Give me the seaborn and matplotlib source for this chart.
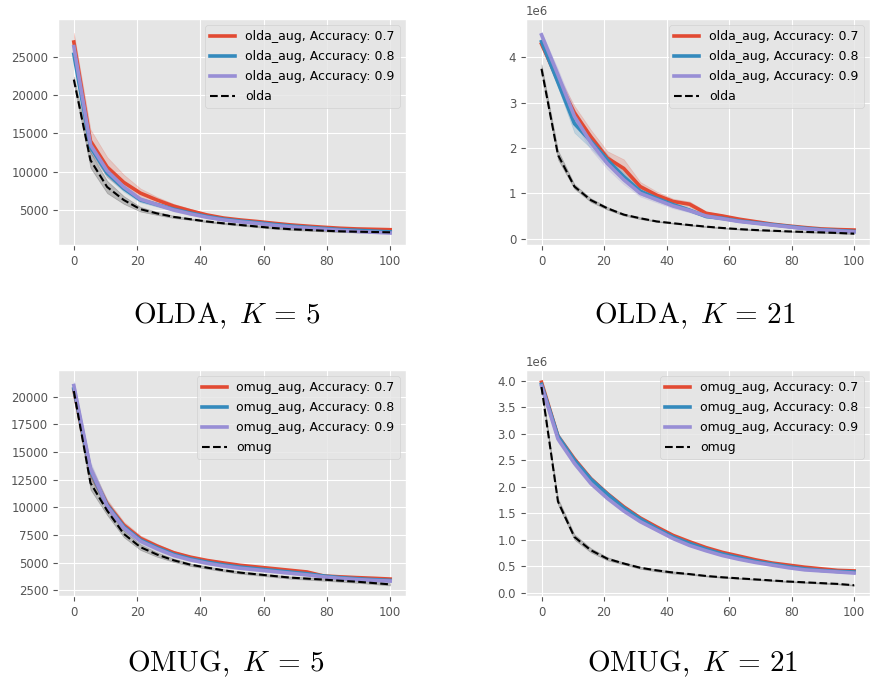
import numpy as np
import pandas as pd
import matplotlib
matplotlib.use("Agg")
import matplotlib.pyplot as plt
import seaborn as sns

plt.style.use("ggplot")
plt.rcParams["mathtext.fontset"] = "cm"

x_vals = [0, 5.26, 10.53, 15.79, 21.05, 26.32, 31.58, 36.84, 42.11, 47.37,
          52.63, 57.89, 63.16, 68.42, 73.68, 78.95, 84.21, 89.47, 94.74, 100]

# ---- OLDA, K = 5 ----
olda5_07 = [26900, 14000, 10600, 8600, 7200, 6300, 5500, 4900, 4350, 3950, 3700, 3500, 3270, 3060, 2900, 2750, 2620, 2530, 2480, 2430]
olda5_08 = [25300, 13200, 9800, 7800, 6300, 5700, 5100, 4600, 4150, 3800, 3550, 3350, 3120, 2920, 2750, 2600, 2450, 2350, 2250, 2150]
olda5_09 = [26300, 13500, 10100, 8000, 6400, 5700, 5000, 4500, 4050, 3700, 3450, 3250, 3000, 2800, 2650, 2500, 2350, 2200, 2100, 2000]
olda5_base = [22000, 11500, 8000, 6300, 5100, 4550, 4100, 3800, 3500, 3260, 3050, 2850, 2650, 2500, 2400, 2300, 2220, 2170, 2130, 2090]
olda5_sd07 = [1200, 1500, 1300, 1000, 600, 400, 300, 250, 200, 150, 150, 120, 100, 100, 100, 100, 100, 100, 100, 100]
olda5_sd08 = [500, 700, 500, 400, 300, 250, 200, 150, 120, 100, 100, 100, 100, 100, 100, 100, 100, 100, 100, 100]
olda5_sd09 = [600, 700, 500, 400, 300, 250, 200, 150, 120, 100, 100, 100, 100, 100, 100, 100, 100, 100, 100, 100]
olda5_sdb = [400, 1000, 800, 500, 300, 200, 150, 100, 100, 100, 100, 100, 100, 100, 100, 100, 100, 100, 100, 100]

# ---- OLDA, K = 21 ----
olda21_07 = [4.30e6, 3.50e6, 2.78e6, 2.25e6, 1.78e6, 1.55e6, 1.15e6, 0.96e6, 0.82e6, 0.76e6, 0.56e6, 0.50e6, 0.43e6, 0.375e6, 0.32e6, 0.28e6, 0.245e6, 0.215e6, 0.20e6, 0.19e6]
olda21_08 = [4.35e6, 3.45e6, 2.54e6, 2.15e6, 1.74e6, 1.37e6, 1.05e6, 0.89e6, 0.75e6, 0.63e6, 0.49e6, 0.45e6, 0.39e6, 0.35e6, 0.31e6, 0.27e6, 0.23e6, 0.20e6, 0.18e6, 0.16e6]
olda21_09 = [4.50e6, 3.62e6, 2.70e6, 2.12e6, 1.66e6, 1.30e6, 1.00e6, 0.86e6, 0.72e6, 0.62e6, 0.50e6, 0.44e6, 0.38e6, 0.34e6, 0.30e6, 0.26e6, 0.22e6, 0.19e6, 0.17e6, 0.15e6]
olda21_base = [3.75e6, 1.85e6, 1.15e6, 0.85e6, 0.67e6, 0.53e6, 0.45e6, 0.38e6, 0.34e6, 0.30e6, 0.265e6, 0.235e6, 0.21e6, 0.19e6, 0.175e6, 0.16e6, 0.148e6, 0.138e6, 0.125e6, 0.11e6]
olda21_sd07 = [0.08e6, 0.12e6, 0.15e6, 0.15e6, 0.15e6, 0.2e6, 0.1e6, 0.08e6, 0.06e6, 0.06e6, 0.04e6, 0.03e6, 0.03e6, 0.02e6, 0.02e6, 0.02e6, 0.02e6, 0.02e6, 0.02e6, 0.02e6]
olda21_sd08 = [0.05e6, 0.1e6, 0.2e6, 0.15e6, 0.12e6, 0.1e6, 0.08e6, 0.06e6, 0.05e6, 0.04e6, 0.03e6, 0.03e6, 0.02e6, 0.02e6, 0.02e6, 0.02e6, 0.02e6, 0.02e6, 0.02e6, 0.02e6]
olda21_sd09 = [0.06e6, 0.12e6, 0.15e6, 0.15e6, 0.12e6, 0.1e6, 0.07e6, 0.06e6, 0.05e6, 0.04e6, 0.03e6, 0.03e6, 0.02e6, 0.02e6, 0.02e6, 0.02e6, 0.02e6, 0.02e6, 0.02e6, 0.02e6]
olda21_sdb = [0.1e6, 0.1e6, 0.05e6, 0.04e6, 0.03e6, 0.02e6, 0.02e6, 0.01e6, 0.01e6, 0.01e6, 0.01e6, 0.01e6, 0.01e6, 0.01e6, 0.01e6, 0.01e6, 0.01e6, 0.01e6, 0.01e6, 0.01e6]

# ---- OMUG, K = 5 ----
omug5_07 = [20600, 13200, 10300, 8400, 7200, 6500, 5900, 5500, 5200, 4970, 4760, 4610, 4460, 4310, 4160, 3800, 3720, 3650, 3590, 3520]
omug5_08 = [20700, 13300, 10200, 8250, 7050, 6350, 5750, 5350, 5050, 4800, 4600, 4450, 4300, 4150, 4000, 3800, 3650, 3550, 3470, 3400]
omug5_09 = [21000, 13500, 10100, 8150, 6950, 6250, 5650, 5250, 4950, 4700, 4500, 4350, 4200, 4050, 3900, 3720, 3580, 3480, 3400, 3340]
omug5_base = [20500, 12200, 9700, 7600, 6400, 5730, 5210, 4820, 4550, 4310, 4100, 3950, 3800, 3650, 3560, 3470, 3370, 3280, 3160, 3040]
omug5_sd = [400, 600, 400, 300, 250, 200, 150, 120, 100, 100, 100, 100, 100, 100, 100, 100, 100, 100, 100, 100]

# ---- OMUG, K = 21 ----
omug21_07 = [3.97e6, 2.95e6, 2.52e6, 2.15e6, 1.87e6, 1.62e6, 1.41e6, 1.24e6, 1.08e6, 0.96e6, 0.85e6, 0.76e6, 0.69e6, 0.62e6, 0.56e6, 0.52e6, 0.48e6, 0.45e6, 0.42e6, 0.41e6]
omug21_08 = [3.93e6, 2.95e6, 2.50e6, 2.14e6, 1.86e6, 1.60e6, 1.39e6, 1.21e6, 1.05e6, 0.93e6, 0.82e6, 0.73e6, 0.66e6, 0.59e6, 0.54e6, 0.49e6, 0.45e6, 0.42e6, 0.40e6, 0.39e6]
omug21_09 = [3.90e6, 2.90e6, 2.44e6, 2.06e6, 1.78e6, 1.54e6, 1.34e6, 1.18e6, 1.02e6, 0.89e6, 0.79e6, 0.70e6, 0.63e6, 0.57e6, 0.52e6, 0.47e6, 0.43e6, 0.41e6, 0.39e6, 0.37e6]
omug21_base = [3.88e6, 1.72e6, 1.05e6, 0.80e6, 0.64e6, 0.55e6, 0.47e6, 0.42e6, 0.38e6, 0.35e6, 0.315e6, 0.29e6, 0.27e6, 0.25e6, 0.23e6, 0.21e6, 0.195e6, 0.18e6, 0.165e6, 0.14e6]
omug21_sd = [0.03e6, 0.06e6, 0.05e6, 0.04e6, 0.03e6, 0.02e6, 0.02e6, 0.02e6, 0.02e6, 0.01e6, 0.01e6, 0.01e6, 0.01e6, 0.01e6, 0.01e6, 0.01e6, 0.01e6, 0.01e6, 0.01e6, 0.01e6]

accuracies = ["0.7", "0.8", "0.9"]
colors = ["#E24A33", "#348ABD", "#988ED5"]

panels = [
    dict(name="olda", series=[olda5_07, olda5_08, olda5_09], base=olda5_base,
         sds=[olda5_sd07, olda5_sd08, olda5_sd09], sdb=olda5_sdb,
         ylim=(440, 29900), caption=r"$\mathrm{OLDA,}\ K\,=\,5$",
         rect=[0.0663, 0.6429, 0.3977, 0.3294], cpos=(0.26, 0.518)),
    dict(name="olda", series=[olda21_07, olda21_08, olda21_09], base=olda21_base,
         sds=[olda21_sd07, olda21_sd08, olda21_sd09], sdb=olda21_sdb,
         ylim=(-0.14e6, 4.85e6), caption=r"$\mathrm{OLDA,}\ K\,=\,21$",
         rect=[0.601, 0.6429, 0.393, 0.3294], cpos=(0.794, 0.518)),
    dict(name="omug", series=[omug5_07, omug5_08, omug5_09], base=omug5_base,
         sds=[omug5_sd, omug5_sd, omug5_sd], sdb=omug5_sd,
         ylim=(1990, 22400), caption=r"$\mathrm{OMUG,}\ K\,=\,5$",
         rect=[0.0663, 0.1312, 0.3977, 0.3294], cpos=(0.258, 0.010)),
    dict(name="omug", series=[omug21_07, omug21_08, omug21_09], base=omug21_base,
         sds=[omug21_sd, omug21_sd, omug21_sd], sdb=omug21_sd,
         ylim=(-0.063e6, 4.2e6), caption=r"$\mathrm{OMUG,}\ K\,=\,21$",
         rect=[0.601, 0.1312, 0.393, 0.3294], cpos=(0.792, 0.010)),
]


def band_frame(mean, sd):
    m = np.asarray(mean, dtype=float)
    s = np.asarray(sd, dtype=float)
    xs = np.asarray(x_vals, dtype=float)
    return pd.DataFrame({"x": np.concatenate([xs, xs]),
                         "y": np.concatenate([m - s, m + s])})


def minmax(v):
    return (v.min(), v.max())


fig = plt.figure(figsize=(8.75, 6.86), dpi=100)
fig.patch.set_facecolor("white")

for p in panels:
    ax = fig.add_axes(p["rect"])
    for vals, sd, acc, col in zip(p["series"], p["sds"], accuracies, colors):
        sns.lineplot(data=band_frame(vals, sd), x="x", y="y", ax=ax,
                     color=col, linewidth=2.6, errorbar=minmax,
                     label=f"{p['name']}_aug, Accuracy: {acc}")
    sns.lineplot(data=band_frame(p["base"], p["sdb"]), x="x", y="y", ax=ax,
                 color="black", linewidth=1.5, linestyle="--", errorbar=minmax,
                 label=p["name"])
    ax.set_xlim(-5, 105)
    ax.set_ylim(*p["ylim"])
    ax.set_xticks([0, 20, 40, 60, 80, 100])
    ax.set_xlabel("")
    ax.set_ylabel("")
    ax.tick_params(labelsize=8.5, colors="#555555")
    ax.yaxis.get_offset_text().set_fontsize(8.5)
    ax.yaxis.get_offset_text().set_color("#555555")
    ax.legend(loc="upper right", fontsize=9, labelspacing=0.55)
    fig.text(p["cpos"][0], p["cpos"][1], p["caption"], fontsize=21,
             ha="center", va="bottom")

fig.savefig("out.png", dpi=100, facecolor="white")
